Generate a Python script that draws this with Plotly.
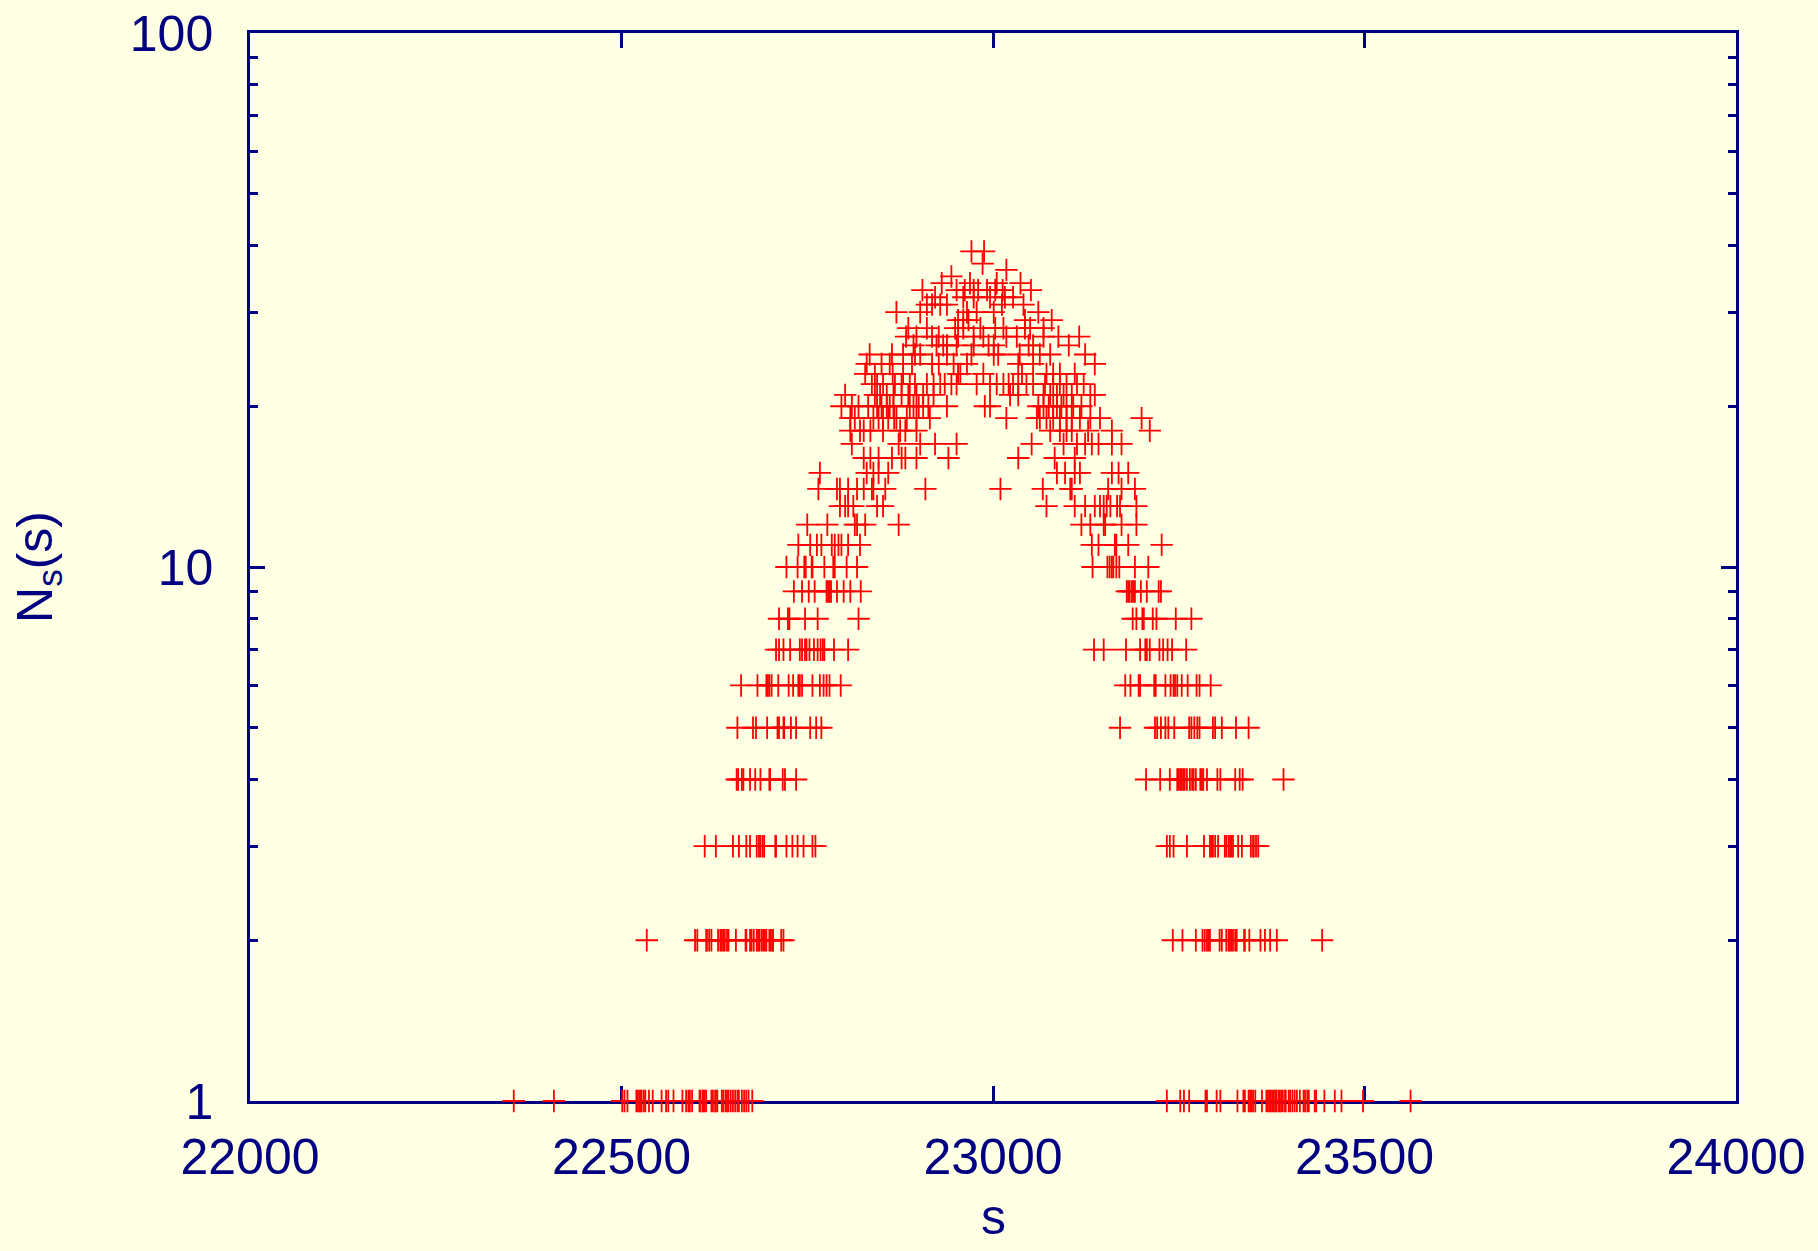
import plotly.graph_objects as go

# s values of the points, grouped by their N_s(s) level
s_n01 = [22355, 22409, 22501, 22504, 22508, 22520, 22522, 22524, 22526, 22527, 22530, 22532, 22537, 22542,
         22554, 22560, 22563, 22570, 22582, 22587, 22590, 22592, 22595, 22605, 22606, 22609, 22610, 22612,
         22614, 22621, 22623, 22626, 22627, 22629, 22635, 22637, 22640, 22642, 22644, 22647, 22650, 22653,
         22656, 22658, 22662, 22665, 22668, 22671, 22676,
         23234, 23252, 23257, 23264, 23286, 23288, 23301, 23306, 23329, 23337, 23339, 23344, 23346, 23348,
         23350, 23353, 23362, 23368, 23370, 23372, 23374, 23376, 23378, 23380, 23381, 23384, 23386, 23388,
         23390, 23393, 23394, 23398, 23400, 23403, 23406, 23409, 23413, 23418, 23420, 23423, 23425, 23433,
         23435, 23446, 23460, 23469, 23498, 23562]
s_n02 = [22534, 22599, 22602, 22614, 22615, 22618, 22621, 22630, 22633, 22635, 22637, 22639, 22642, 22644,
         22654, 22667, 22668, 22673, 22675, 22678, 22682, 22684, 22686, 22689, 22691, 22693, 22695, 22699,
         22701, 22703, 22704, 22715, 22718,
         23242, 23255, 23273, 23282, 23285, 23288, 23290, 23292, 23305, 23308, 23314, 23317, 23319, 23321,
         23323, 23326, 23328, 23338, 23339, 23345, 23360, 23366, 23373, 23382, 23443]
s_n03 = [22612, 22627, 22650, 22658, 22668, 22673, 22682, 22685, 22687, 22690, 22692, 22707, 22708, 22722,
         22730, 22737, 22745, 22757, 22761,
         23234, 23238, 23243, 23261, 23284, 23292, 23294, 23296, 23299, 23303, 23312, 23314, 23317, 23319,
         23321, 23323, 23330, 23335, 23347, 23350, 23351, 23354, 23357]
s_n04 = [22655, 22657, 22662, 22664, 22673, 22680, 22687, 22699, 22700, 22717, 22720, 22735,
         23206, 23225, 23238, 23248, 23250, 23252, 23254, 23256, 23258, 23261, 23265, 23268, 23270, 23273,
         23279, 23281, 23283, 23288, 23302, 23306, 23326, 23332, 23336, 23391]
s_n05 = [22656, 22677, 22681, 22696, 22710, 22712, 22718, 22719, 22728, 22735, 22754, 22762, 22769,
         23171, 23218, 23221, 23226, 23232, 23236, 23244, 23264, 23267, 23271, 23275, 23278, 23296, 23299,
         23308, 23327, 23344]
s_n06 = [22661, 22683, 22695, 22697, 22699, 22702, 22711, 22725, 22731, 22738, 22740, 22743, 22757, 22767,
         22772, 22776, 22780, 22795,
         23178, 23185, 23196, 23198, 23217, 23219, 23232, 23239, 23243, 23245, 23248, 23254, 23262, 23274,
         23278, 23293]
s_n07 = [22708, 22712, 22718, 22727, 22740, 22743, 22747, 22749, 22753, 22759, 22764, 22768, 22771, 22773,
         22786, 22805,
         23136, 23149, 23179, 23198, 23205, 23207, 23211, 23224, 23229, 23235, 23241, 23260]
s_n08 = [22712, 22724, 22726, 22747, 22764, 22819,
         23188, 23193, 23201, 23203, 23215, 23220, 23246, 23267]
s_n09 = [22732, 22743, 22752, 22760, 22776, 22778, 22780, 22782, 22790, 22799, 22808, 22822,
         23180, 23182, 23184, 23187, 23189, 23191, 23199, 23207, 23223, 23226]
s_n10 = [22722, 22737, 22746, 22748, 22756, 22757, 22773, 22785, 22787, 22803, 22817,
         23134, 23154, 23157, 23160, 23162, 23166, 23170, 23191, 23209]
s_n11 = [22738, 22754, 22763, 22769, 22783, 22787, 22792, 22796, 22805, 22821,
         23133, 23142, 23164, 23166, 23182, 23227]
s_n12 = [22750, 22777, 22814, 22817, 22828, 22873, 23119, 23131, 23149, 23151, 23173, 23193]
s_n13 = [22794, 22801, 22805, 22812, 22844, 22852, 23072, 23110, 23124, 23137, 23144, 23149, 23153, 23158,
         23167, 23171, 23193]
s_n14 = [22765, 22790, 22794, 22805, 22817, 22826, 22837, 22839, 22855, 22909, 23010, 23067, 23104, 23106,
         23155, 23173, 23191]
s_n15 = [22767, 22830, 22839, 22846, 22859, 23086, 23097, 23110, 23117, 23160, 23169, 23182]
s_n16 = [22826, 22835, 22846, 22864, 22877, 22882, 22897, 22940, 23034, 23083, 23110]
s_n17 = [22810, 22873, 22902, 22922, 22951, 23052, 23095, 23113, 23124, 23133, 23142, 23160, 23173]
s_n18 = [22808, 22821, 22826, 22835, 22852, 22875, 22882, 22897, 23077, 23090, 23099, 23106, 23128, 23160,
         23211]
s_n19 = [22808, 22814, 22839, 22846, 22852, 22859, 22867, 22870, 22884, 22897, 22915, 23018, 23059, 23063,
         23072, 23081, 23090, 23099, 23106, 23117, 23131, 23144, 23200]
s_n20 = [22796, 22810, 22819, 22832, 22844, 22850, 22857, 22861, 22866, 22888, 22893, 22900, 22906, 22913,
         22938, 22989, 22996, 23061, 23068, 23075, 23081, 23086, 23092, 23099, 23108, 23119]
s_n21 = [22801, 22841, 22848, 22857, 22866, 22877, 22886, 22897, 22906, 22920, 23023, 23034, 23068, 23077,
         23086, 23095, 23106, 23131, 23137]
s_n22 = [22837, 22844, 22852, 22868, 22877, 22888, 22895, 22911, 22920, 22929, 22935, 22944, 22951, 22978,
         22996, 23005, 23014, 23021, 23027, 23034, 23045, 23054, 23070, 23081, 23090, 23099, 23113, 23122]
s_n23 = [22828, 22841, 22865, 22879, 22953, 22956, 22987, 23039, 23072, 23081, 23090, 23110]
s_n24 = [22830, 22850, 22861, 22891, 22918, 22927, 22947, 22965, 23034, 23054, 23137]
s_n25 = [22834, 22864, 22879, 22895, 22902, 22938, 22971, 23001, 23007, 23036, 23063, 23077, 23124]
s_n26 = [22893, 22924, 22933, 22938, 22951, 22974, 22994, 23001, 23048, 23054, 23102]
s_n27 = [22883, 22897, 22918, 22927, 22953, 22974, 22987, 23018, 23032, 23068, 23088, 23116]
s_n28 = [22886, 22911, 22949, 22960, 22983, 23003, 23014, 23043, 23050, 23068]
s_n29 = [22953, 22960, 22967, 23043, 23079]
s_n30 = [22870, 22902, 22965, 22978, 23001, 23061]
s_n31 = [22911, 22918, 22929, 22938, 23012, 23041]
s_n32 = [22922, 22960, 22974, 22996, 23016, 23027]
s_n33 = [22905, 22951, 22962, 22974, 22980, 22992, 23003, 23013, 23051]
s_n34 = [22931, 22969, 23005, 23037]
s_n35 = [22944]
s_n36 = [23018]
s_n37 = [22986]
s_n39 = [22971, 22988]

levels = [(1, s_n01), (2, s_n02), (3, s_n03), (4, s_n04), (5, s_n05), (6, s_n06), (7, s_n07),
          (8, s_n08), (9, s_n09), (10, s_n10), (11, s_n11), (12, s_n12), (13, s_n13), (14, s_n14),
          (15, s_n15), (16, s_n16), (17, s_n17), (18, s_n18), (19, s_n19), (20, s_n20), (21, s_n21),
          (22, s_n22), (23, s_n23), (24, s_n24), (25, s_n25), (26, s_n26), (27, s_n27), (28, s_n28),
          (29, s_n29), (30, s_n30), (31, s_n31), (32, s_n32), (33, s_n33), (34, s_n34), (35, s_n35),
          (36, s_n36), (37, s_n37), (39, s_n39)]

x_ticks = [22000, 22500, 23000, 23500, 24000]
x_tick_text = ["22000", "22500", "23000", "23500", "24000"]
y_ticks = [1, 10, 100]
y_tick_text = ["1", "10", "100"]
y_minor = [2, 3, 4, 5, 6, 7, 8, 9, 20, 30, 40, 50, 60, 70, 80, 90]
x_title = "s"
y_title = "N<sub>s</sub>(s)"

xs, ys = [], []
for n, svals in levels:
    xs.extend(svals)
    ys.extend([n] * len(svals))

BG = "#ffffe4"
NAVY = "#000080"
FONT = "Liberation Sans, Arial, sans-serif"

fig = go.Figure()
fig.add_trace(go.Scatter(
    x=xs, y=ys, mode="markers",
    marker=dict(symbol="cross-thin", size=16, line=dict(width=1.8, color="#ff0000"), color="#ff0000"),
    cliponaxis=False, showlegend=False, hoverinfo="x+y",
))

fig.update_layout(
    width=1818, height=1251,
    margin=dict(l=250, r=82, t=33, b=150, autoexpand=False),
    paper_bgcolor=BG, plot_bgcolor=BG,
    font=dict(family=FONT, size=50, color=NAVY),
    showlegend=False,
)
fig.add_annotation(
    text=x_title, xref="paper", yref="paper", x=0.5, y=0, yshift=-116,
    xanchor="center", yanchor="middle", showarrow=False, font=dict(size=50, color=NAVY),
)
fig.update_xaxes(
    range=[22000, 24000], tickvals=x_ticks, ticktext=x_tick_text, ticks="inside", ticklen=15, tickwidth=2.5,
    tickcolor=NAVY, showline=True, linecolor=NAVY, linewidth=2.5, mirror="allticks",
    showgrid=False, zeroline=False, layer="below traces", ticklabelstandoff=10, automargin=False,
    tickfont=dict(size=50, color=NAVY),
)
fig.update_yaxes(
    type="log", range=[0, 2], tickvals=y_ticks, ticktext=y_tick_text, ticks="inside", ticklen=15,
    tickwidth=2.5, tickcolor=NAVY, showline=True, linecolor=NAVY, linewidth=2.5, mirror="allticks",
    showgrid=False, zeroline=False, layer="below traces", ticklabelstandoff=24, automargin=False,
    minor=dict(tickvals=y_minor, ticks="inside", ticklen=8, tickwidth=2.5, tickcolor=NAVY, showgrid=False),
    title=dict(text=y_title, standoff=62, font=dict(size=50, color=NAVY)),
    tickfont=dict(size=50, color=NAVY),
)

fig.write_html("out.html")
